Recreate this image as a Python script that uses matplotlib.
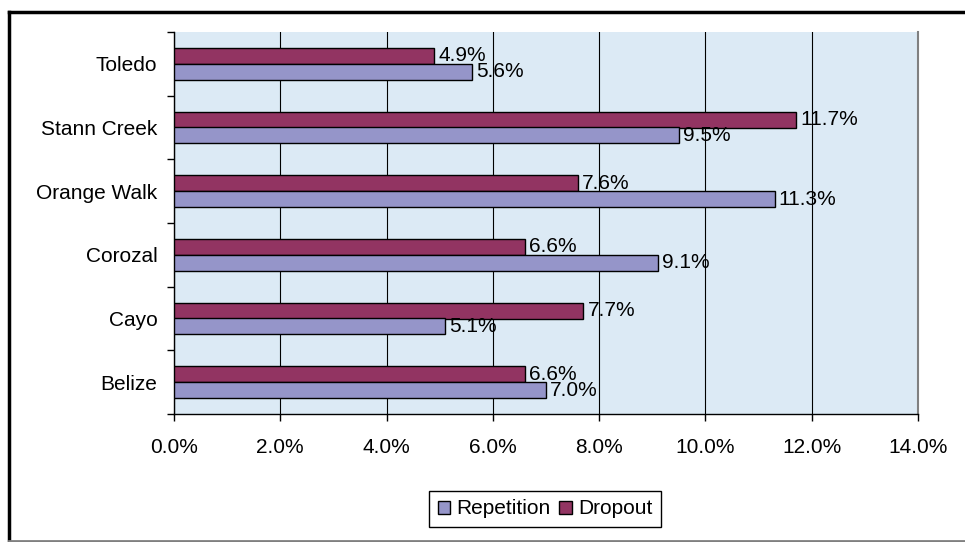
import numpy as np
import matplotlib.pyplot as plt
from matplotlib.lines import Line2D

plt.rcParams['font.family'] = ['Liberation Sans', 'DejaVu Sans']

districts = ['Belize', 'Cayo', 'Corozal', 'Orange Walk', 'Stann Creek', 'Toledo']
repetition = [7.0, 5.1, 9.1, 11.3, 9.5, 5.6]
dropout = [6.6, 7.7, 6.6, 7.6, 11.7, 4.9]

REP_COLOR = '#9595c9'
DROP_COLOR = '#923462'
FS = 15

fig = plt.figure(figsize=(9.65, 5.42), dpi=100)
# plot area in pixels: x 174..918, y 32..414 (from top)
W, H = 965, 542
ax = fig.add_axes([174 / W, 1 - 414 / H, (918 - 174) / W, (414 - 32) / H])

# outer chart frame: black top/left, grey bottom
fig.add_artist(Line2D([9 / W, 1], [1 - 12 / H, 1 - 12 / H], color='black', lw=2.5))
fig.add_artist(Line2D([9 / W, 9 / W], [1 - 12 / H, 1 - 541 / H], color='black', lw=2.5))
fig.add_artist(Line2D([9 / W, 1], [1 - 541 / H, 1 - 541 / H], color='#808080', lw=2))

ax.set_facecolor('#dceaf5')
y = np.arange(len(districts))
h = 0.25
ax.barh(y + h / 2, dropout, height=h, color=DROP_COLOR, edgecolor='black',
        lw=1, label='Dropout', zorder=3)
ax.barh(y - h / 2, repetition, height=h, color=REP_COLOR, edgecolor='black',
        lw=1, label='Repetition', zorder=3)

for yi, v in zip(y, dropout):
    ax.text(v + 0.08, yi + h / 2, f'{v:.1f}%', va='center', ha='left',
            fontsize=FS, zorder=4)
for yi, v in zip(y, repetition):
    ax.text(v + 0.08, yi - h / 2, f'{v:.1f}%', va='center', ha='left',
            fontsize=FS, zorder=4)

ax.set_xlim(0, 14)
ax.set_ylim(-0.5, len(districts) - 0.5)
ax.set_xticks(np.arange(0, 14.1, 2))
ax.set_xticklabels([f'{t:.1f}%' for t in np.arange(0, 14.1, 2)])
ax.set_yticks(np.arange(-0.5, len(districts), 1))
ax.set_yticklabels([])
ax.set_yticks(y, minor=True)
ax.set_yticklabels(districts, minor=True)
ax.tick_params(axis='y', which='minor', length=0, pad=12, labelsize=FS)
ax.tick_params(axis='y', which='major', direction='out', length=5, width=1)
ax.tick_params(axis='x', direction='out', length=5, width=1, pad=12, labelsize=FS)

ax.grid(axis='x', color='black', lw=0.8, zorder=1)
ax.set_axisbelow(True)
ax.spines['top'].set_visible(False)
ax.spines['right'].set_color('#808080')
ax.spines['right'].set_linewidth(1.5)
ax.spines['left'].set_linewidth(1)
ax.spines['bottom'].set_linewidth(1)

handles, labels = ax.get_legend_handles_labels()
fig.legend(handles[::-1], labels[::-1], loc='center',
           bbox_to_anchor=(545 / W, 1 - 509 / H), ncol=2, fontsize=FS,
           frameon=True, fancybox=False, edgecolor='black', handlelength=0.6,
           handleheight=0.6, handletextpad=0.3, columnspacing=0.4,
           borderpad=0.4, framealpha=1)

fig.savefig('out.png', dpi=100)
